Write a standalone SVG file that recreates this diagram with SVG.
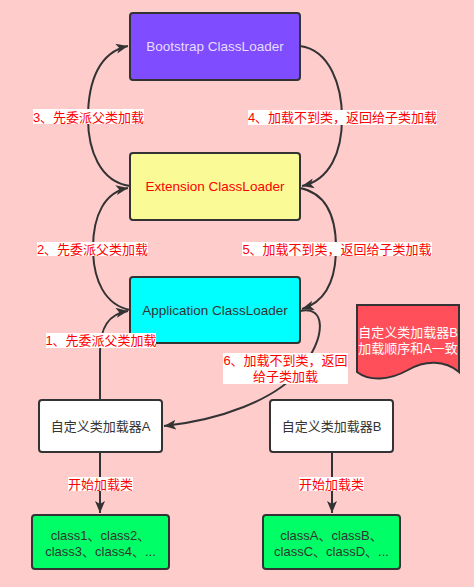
<svg xmlns="http://www.w3.org/2000/svg" width="474" height="587" viewBox="0 0 474 587">
<style>
.box{stroke:#333;stroke-width:2}
.t{font-family:"Liberation Sans","Noto Sans CJK SC",sans-serif;font-size:13px;text-anchor:middle}
.lbl{font-family:"Liberation Sans","Noto Sans CJK SC",sans-serif;font-size:13px;fill:#ff0000;text-anchor:middle}
.lb{fill:#ffffff}
.c{fill:none;stroke:#333;stroke-width:2}
</style>
<defs>
<marker id="ah" markerUnits="userSpaceOnUse" markerWidth="14" markerHeight="12" refX="12" refY="5" orient="auto">
<path d="M0,0 L12,5 L0,10 L3,5 Z" fill="#333"/>
</marker>
</defs>
<rect width="474" height="587" fill="#ffcccc"/>
<g id="bootstrap">
<rect class="box" x="130" y="13" width="170" height="67" rx="3" fill="#7f4cff"/>
<text class="t" x="215" y="51" fill="#e6dcff" style="font-size:13.5px">Bootstrap ClassLoader</text>
</g>
<g id="extension">
<rect class="box" x="130" y="153" width="170" height="67" rx="3" fill="#fafa96"/>
<text class="t" x="215" y="191" fill="#ff0000" style="font-size:13.5px">Extension ClassLoader</text>
</g>
<g id="application">
<rect class="box" x="130" y="277" width="170" height="66" rx="3" fill="#00ffff"/>
<text class="t" x="215" y="314.5" fill="#333" style="font-size:13.5px">Application ClassLoader</text>
</g>
<g id="loaderA">
<rect class="box" x="39" y="400" width="123" height="52" rx="3" fill="#ffffff"/>
<text class="t" x="100.5" y="431" fill="#333">自定义类加载器A</text>
</g>
<g id="loaderB">
<rect class="box" x="270" y="400" width="123" height="52" rx="3" fill="#ffffff"/>
<text class="t" x="331.5" y="431" fill="#333">自定义类加载器B</text>
</g>
<g id="classesA">
<rect class="box" x="32" y="515" width="137" height="54" rx="3" fill="#00ff66"/>
<text class="t" x="100.5" y="540" fill="#333">class1、class2、</text>
<text class="t" x="100.5" y="556" fill="#333">class3、class4、...</text>
</g>
<g id="classesB">
<rect class="box" x="263" y="515" width="137" height="54" rx="3" fill="#00ff66"/>
<text class="t" x="331.5" y="540" fill="#333">classA、classB、</text>
<text class="t" x="331.5" y="556" fill="#333">classC、classD、...</text>
</g>
<g id="note">
<path class="box" d="M357,305 H459 V372 C445,360 425,360 408,370 C390,380 370,382 357,372 Z" fill="#ff4f5a"/>
<text class="t" x="408" y="337" fill="#ffffff">自定义类加载器B</text>
<text class="t" x="408" y="353" fill="#ffffff">加载顺序和A一致</text>
</g>
<g id="connectors">
<path class="c" d="M130,186 C100,182 88,150 88,118 C88,80 100,52 128,46" marker-end="url(#ah)"/>
<path class="c" d="M300,46 C330,50 342,86 342,118 C342,152 330,180 302,186" marker-end="url(#ah)"/>
<path class="c" d="M130,310 C105,305 93,280 93,248 C93,215 105,192 128,188" marker-end="url(#ah)"/>
<path class="c" d="M300,188 C325,193 336,215 336,248 C336,280 325,302 302,309" marker-end="url(#ah)"/>
<path class="c" d="M100,400 L100,352 C100,328 108,314 128,311" marker-end="url(#ah)"/>
<path class="c" d="M300,311 C325,305 328,335 300,370 C275,400 220,420 164,426" marker-end="url(#ah)"/>
<path class="c" d="M100,452 L100,513" marker-end="url(#ah)"/>
<path class="c" d="M332,452 L332,513" marker-end="url(#ah)"/>
<g id="labels">
<rect class="lb" x="33" y="109" width="111" height="15"/>
<text class="lbl" x="88.5" y="121.5">3、先委派父类加载</text>
<rect class="lb" x="248" y="110" width="189" height="15"/>
<text class="lbl" x="342.5" y="122">4、加载不到类，返回给子类加载</text>
<rect class="lb" x="37" y="242" width="111" height="14"/>
<text class="lbl" x="92.5" y="253.5">2、先委派父类加载</text>
<rect class="lb" x="242" y="242" width="190" height="14"/>
<text class="lbl" x="337" y="253.5">5、加载不到类，返回给子类加载</text>
<rect class="lb" x="46" y="333" width="110" height="15"/>
<text class="lbl" x="101" y="345">1、先委派父类加载</text>
<rect class="lb" x="223" y="353" width="125" height="31"/>
<text class="lbl" x="285.5" y="365">6、加载不到类，返回</text>
<text class="lbl" x="285.5" y="381">给子类加载</text>
<rect class="lb" x="68" y="477" width="65" height="14"/>
<text class="lbl" x="100.5" y="488.5">开始加载类</text>
<rect class="lb" x="299" y="477" width="65" height="14"/>
<text class="lbl" x="331.5" y="488.5">开始加载类</text>
</g>
</g>
</svg>
